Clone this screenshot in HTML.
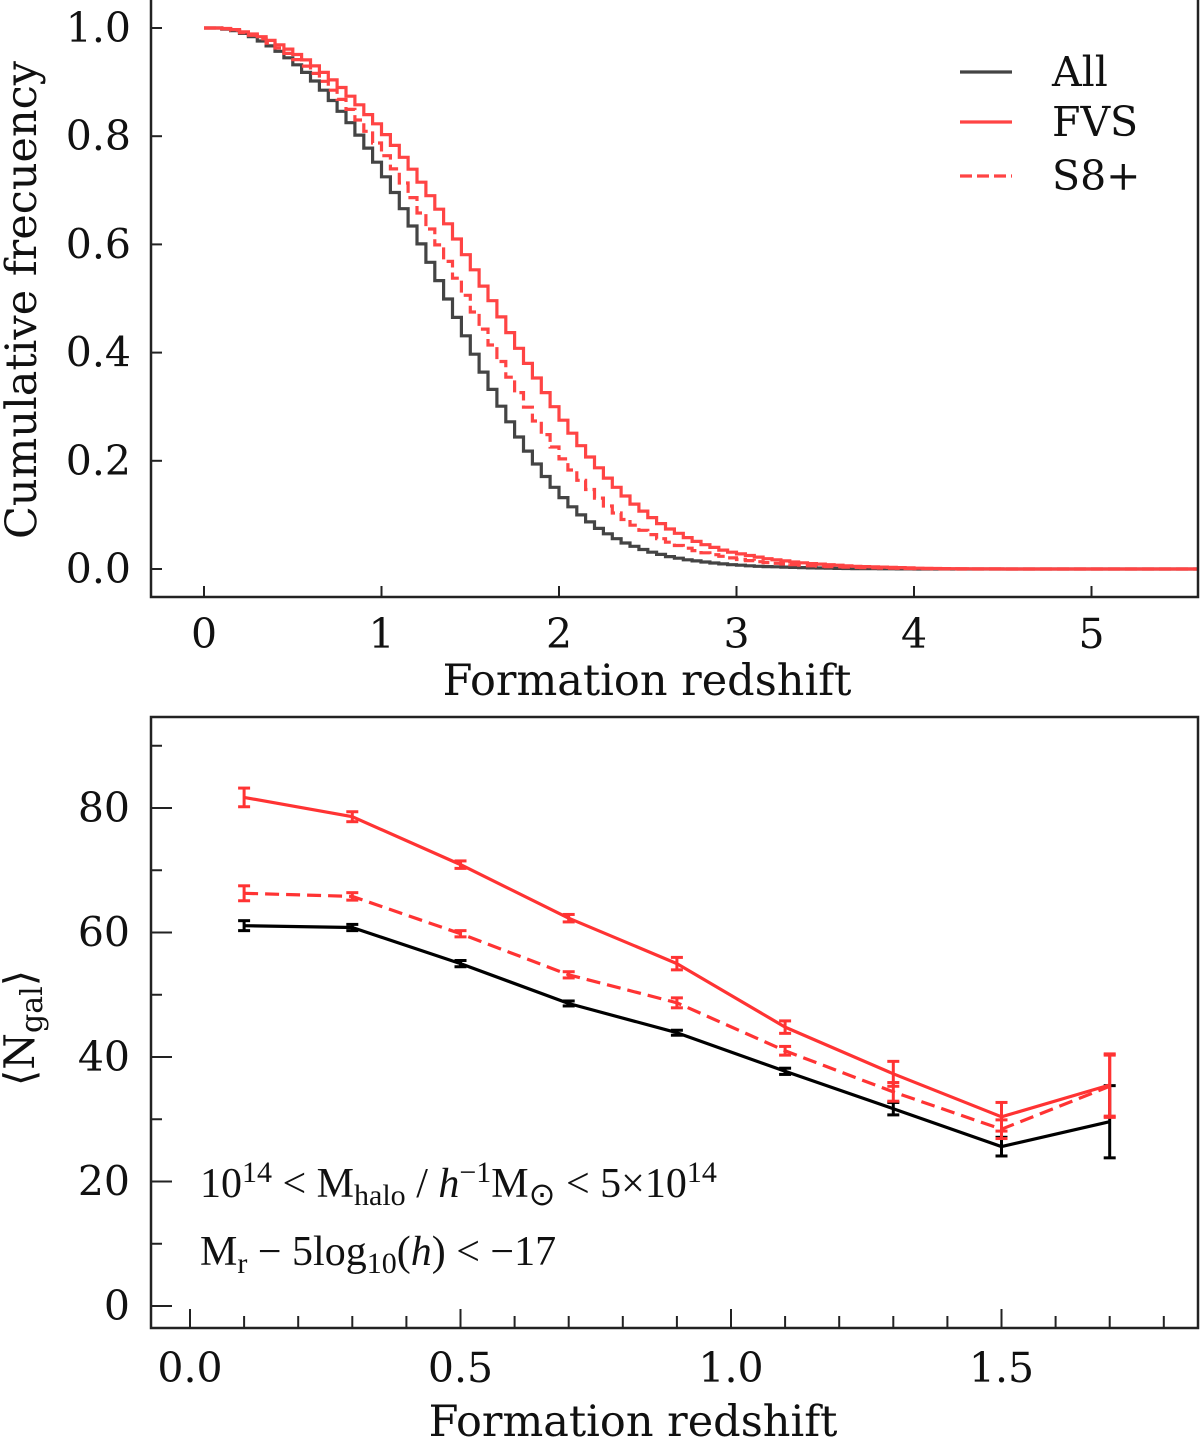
<!DOCTYPE html>
<html><head><meta charset="utf-8">
<style>
html,body{margin:0;padding:0;background:#fff;}
svg{display:block;font-family:"DejaVu Serif",serif;}
</style></head>
<body>
<svg id="chart" width="1200" height="1440" viewBox="0 0 1200 1440" xmlns="http://www.w3.org/2000/svg"></svg>
<script>
// ---- Top panel data (cumulative frequency, bins of 0.05 in z) ----
const topBinWidth = 0.05;
const cdfAll = [1,1,0.998,0.995,0.99,0.984,0.976,0.967,0.957,0.945,0.932,0.918,0.902,0.885,0.866,0.846,0.825,0.802,0.778,0.752,0.725,0.696,0.666,0.634,0.601,0.567,0.533,0.499,0.465,0.431,0.397,0.364,0.332,0.301,0.272,0.244,0.218,0.194,0.171,0.151,0.132,0.115,0.1,0.087,0.075,0.065,0.056,0.048,0.042,0.036,0.031,0.027,0.023,0.02,0.017,0.015,0.013,0.011,0.0095,0.008,0.007,0.006,0.005,0.0045,0.004,0.0035,0.003,0.0025,0.002,0.0018,0.0015,0.0012,0.001,0.0008,0.0006,0.0005,0.0004,0.0003,0.0002,0.0001,0];
const cdfFVS = [1,1,0.999,0.997,0.993,0.989,0.984,0.977,0.969,0.961,0.951,0.941,0.93,0.918,0.904,0.89,0.874,0.858,0.84,0.823,0.803,0.783,0.761,0.739,0.715,0.69,0.665,0.638,0.61,0.581,0.553,0.523,0.496,0.466,0.437,0.408,0.38,0.353,0.326,0.3,0.275,0.251,0.228,0.207,0.187,0.168,0.151,0.135,0.12,0.107,0.095,0.084,0.074,0.066,0.058,0.051,0.045,0.04,0.035,0.031,0.028,0.025,0.022,0.019,0.017,0.015,0.013,0.0115,0.01,0.009,0.008,0.007,0.006,0.005,0.0045,0.004,0.0035,0.003,0.0025,0.002,0.0015,0.0012,0.001,0.0008,0.0006,0.0005,0.0004,0.0003,0.0002,0.0001,0];
const cdfS8 = [1,1,0.9985,0.996,0.9915,0.9865,0.98,0.972,0.963,0.953,0.9415,0.9295,0.916,0.9015,0.885,0.868,0.8495,0.83,0.809,0.7875,0.764,0.7395,0.7135,0.6865,0.658,0.6285,0.599,0.5685,0.5375,0.506,0.475,0.4435,0.414,0.3835,0.3545,0.326,0.299,0.2735,0.2485,0.2255,0.2035,0.183,0.164,0.147,0.131,0.1165,0.1035,0.0915,0.081,0.0715,0.0635,0.056,0.0495,0.0435,0.0385,0.034,0.03,0.0265,0.0235,0.0205,0.0175,0.0155,0.0135,0.0118,0.0105,0.0093,0.008,0.007,0.006,0.0054,0.0045,0.0041,0.0035,0.0029,0.0025,0.0022,0.0019,0.0016,0.0013,0.001,0.00075,0.0005,0.0003,0.0002,0.0001,0];
const topXTicks = [0,1,2,3,4,5];
const topYTicks = ["0.0","0.2","0.4","0.6","0.8","1.0"];

// ---- Bottom panel data ----
const zForm = [0.1,0.3,0.5,0.7,0.9,1.1,1.3,1.5,1.7];
const ngalFVS = [81.7,78.6,70.9,62.3,55.0,44.8,37.3,30.4,35.5];
const errFVS  = [1.5,0.8,0.6,0.6,1.0,1.0,2.0,2.3,5.0];
const ngalS8  = [66.3,65.8,59.8,53.2,48.7,41.0,34.4,28.4,35.3];
const errS8   = [1.2,0.6,0.5,0.5,0.8,0.7,1.5,1.5,5.0];
const ngalAll = [61.1,60.8,55.0,48.6,43.9,37.7,31.7,25.6,29.6];
const errAll  = [0.8,0.5,0.5,0.4,0.4,0.5,1.0,1.5,5.8];
const botXTicks = ["0.0","0.5","1.0","1.5"];
const botYTicks = [0,20,40,60,80];

const NS = "http://www.w3.org/2000/svg";
const svg = document.getElementById("chart");
function mk(tag, attrs, parent){
  const e = document.createElementNS(NS, tag);
  for (const k in attrs) e.setAttribute(k, attrs[k]);
  (parent||svg).appendChild(e);
  return e;
}

const tx = z => 204 + 177.5*z;
const ty = v => 569 - 541*v;
const bx = z => 190 + 541*z;
const by = v => 1306 - 6.225*v;
const FS = 41;

// ===== Top panel =====
const gTop = mk("g", {});



function stepPath(arr){
  let d = "M" + tx(0).toFixed(1) + "," + ty(arr[0]).toFixed(1);
  for (let i=0;i<arr.length;i++){
    const x1 = tx((i+1)*topBinWidth);
    d += " L" + x1.toFixed(1) + "," + ty(arr[i]).toFixed(1);
    if (i+1<arr.length) d += " L" + x1.toFixed(1) + "," + ty(arr[i+1]).toFixed(1);
  }
  d += " L1197," + ty(arr[arr.length-1]).toFixed(1);
  return d;
}
const pAll = mk("path", {d: stepPath(cdfAll), fill:"none", stroke:"#444", "stroke-width":3.2}, gTop);


const pS8 = mk("path", {d: stepPath(cdfS8), fill:"none", stroke:"#ff4444", "stroke-width":3.2, "stroke-dasharray":"12,5"}, gTop);


const pFVS = mk("path", {d: stepPath(cdfFVS), fill:"none", stroke:"#ff4444", "stroke-width":3.2}, gTop);



const fTop = mk("rect", {x:151, y:-2, width:1047, height:599, fill:"none", stroke:"#222", "stroke-width":2.5}, gTop);


topXTicks.forEach(t=>{
  const x = tx(t);
  mk("line", {x1:x, x2:x, y1:597, y2:586, stroke:"#222", "stroke-width":2}, gTop);
  const lb = mk("text", {x:x, y:648, "text-anchor":"middle", "font-size":FS, fill:"#111"}, gTop);
  lb.textContent = t;
  
  
});
topYTicks.forEach(t=>{
  const y = ty(parseFloat(t));
  mk("line", {x1:151, x2:162, y1:y, y2:y, stroke:"#222", "stroke-width":2}, gTop);
  const lb = mk("text", {x:131, y:y+14, "text-anchor":"end", "font-size":FS, fill:"#111"}, gTop);
  lb.textContent = t;
  
  
});
const xl1 = mk("text", {x:647, y:695, "text-anchor":"middle", "font-size":43, fill:"#111"}, gTop);
xl1.textContent = "Formation redshift";


const yl1 = mk("text", {x:0, y:0, "text-anchor":"middle", "font-size":43, fill:"#111", transform:"translate(36,300) rotate(-90)"}, gTop);
yl1.textContent = "Cumulative frecuency";



const legendItems = [["All","#444",null,72],["FVS","#ff4444",null,122],["S8+","#ff4444","12,5",176]];
legendItems.forEach(li=>{
  const g = mk("g", {}, gTop);
  
  
  const a = {x1:960, x2:1012, y1:li[3], y2:li[3], stroke:li[1], "stroke-width":3.2};
  if (li[2]) a["stroke-dasharray"] = li[2];
  mk("line", a, g);
  const t = mk("text", {x:1052, y:li[3]+14, "font-size":FS, fill:"#111"}, g);
  t.textContent = li[0];
});

// ===== Bottom panel =====
const gBot = mk("g", {});


const fBot = mk("rect", {x:151, y:717, width:1047, height:611, fill:"none", stroke:"#222", "stroke-width":2.5}, gBot);


for (let i=0;i<=18;i++){
  const z = i*0.1, x = bx(z);
  const major = i%5===0;
  mk("line", {x1:x, x2:x, y1:1328, y2:major?1309:1316, stroke:"#222", "stroke-width":2}, gBot);
}
botXTicks.forEach(t=>{
  const lb = mk("text", {x:bx(parseFloat(t)), y:1382, "text-anchor":"middle", "font-size":FS, fill:"#111"}, gBot);
  lb.textContent = t;
  
  
});
for (let v=0; v<=90; v+=10){
  const y = by(v);
  const major = v%20===0;
  mk("line", {x1:151, x2:major?172:162, y1:y, y2:y, stroke:"#222", "stroke-width":2}, gBot);
}
botYTicks.forEach(t=>{
  const lb = mk("text", {x:130, y:by(t)+14, "text-anchor":"end", "font-size":FS, fill:"#111"}, gBot);
  lb.textContent = t;
  
  
});
const xl2 = mk("text", {x:633, y:1436, "text-anchor":"middle", "font-size":43, fill:"#111"}, gBot);
xl2.textContent = "Formation redshift";


const yl2 = mk("text", {x:0, y:0, "text-anchor":"middle", "font-size":42, fill:"#111", transform:"translate(34,1028) rotate(-90)"}, gBot);
yl2.innerHTML = '⟨N<tspan font-size="30" dy="8">gal</tspan><tspan dy="-8">⟩</tspan>';



function series(vals, errs, color, dash, name){
  const g = mk("g", {}, gBot);
  
  
  const pts = zForm.map((z,i)=>bx(z).toFixed(1)+","+by(vals[i]).toFixed(1)).join(" ");
  const a = {points:pts, fill:"none", stroke:color, "stroke-width":3.2, "stroke-linejoin":"round"};
  if (dash) a["stroke-dasharray"] = dash;
  mk("polyline", a, g);
  zForm.forEach((z,i)=>{
    const x = bx(z), y1 = by(vals[i]+errs[i]), y2 = by(vals[i]-errs[i]);
    const eb = mk("g", {}, g);
    
    
    mk("line", {x1:x, x2:x, y1:y1, y2:y2, stroke:color, "stroke-width":3}, eb);
    mk("line", {x1:x-6, x2:x+6, y1:y1, y2:y1, stroke:color, "stroke-width":3}, eb);
    mk("line", {x1:x-6, x2:x+6, y1:y2, y2:y2, stroke:color, "stroke-width":3}, eb);
  });
}
series(ngalAll, errAll, "#000", null, "series-all");
series(ngalS8, errS8, "#ff3333", "14,7", "series-s8");
series(ngalFVS, errFVS, "#ff3333", null, "series-fvs");

const ann1 = mk("text", {x:200, y:1197, "font-size":42, fill:"#111", "font-family":"Liberation Serif, serif"}, gBot);
ann1.innerHTML = '10<tspan font-size="30" dy="-15">14</tspan><tspan dy="15"> &lt; M</tspan><tspan font-size="30" dy="8">halo</tspan><tspan dy="-8"> / </tspan><tspan font-style="italic">h</tspan><tspan font-size="30" dy="-15">−1</tspan><tspan dy="15">M</tspan><tspan font-size="32" dy="8">⊙</tspan><tspan dy="-8"> &lt; 5×10</tspan><tspan font-size="30" dy="-15">14</tspan>';


const ann2 = mk("text", {x:200, y:1265, "font-size":42, fill:"#111", "font-family":"Liberation Serif, serif"}, gBot);
ann2.innerHTML = 'M<tspan font-size="30" dy="8">r</tspan><tspan dy="-8"> − 5log</tspan><tspan font-size="30" dy="8">10</tspan><tspan dy="-8">(</tspan><tspan font-style="italic">h</tspan>) &lt; −17';


</script>
</body></html>
